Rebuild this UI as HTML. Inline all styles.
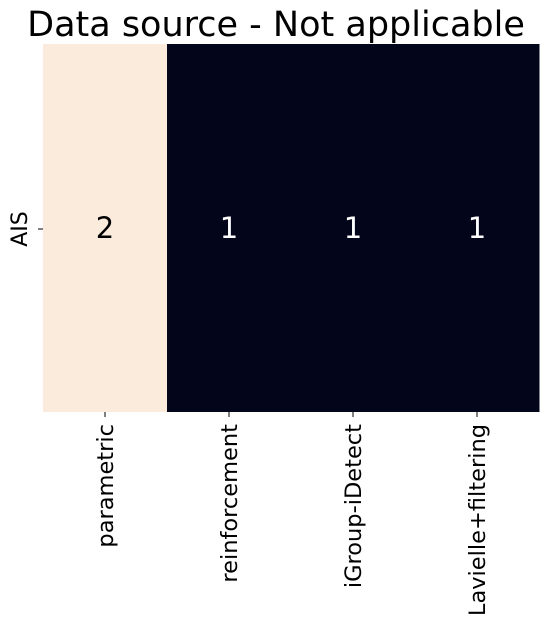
<!DOCTYPE html>
<html><head><meta charset="utf-8"><style>
body{margin:0;background:#fff;}
svg text{font-family:"DejaVu Sans","Liberation Sans",sans-serif;}
</style></head><body>
<svg id="chart" width="548" height="623" xmlns="http://www.w3.org/2000/svg">
<text x="276" y="36" font-size="35" text-anchor="middle" fill="#000">Data source - Not applicable</text>
<g id="cells"></g>
<g id="xlabels"></g>
<line x1="38" x2="43" y1="229" y2="229" stroke="#000" stroke-width="1"/>
<text transform="translate(27,229) rotate(-90)" font-size="22" text-anchor="middle" fill="#000">AIS</text>
</svg>
<script>
const categories=["parametric","reinforcement","iGroup-iDetect","Lavielle+filtering"];
const values=[2,1,1,1];
const x0=43,y0=44,w=496,h=368;
const cw=w/categories.length;
const vmin=Math.min(...values),vmax=Math.max(...values);
function color(v){const t=vmax===vmin?0:(v-vmin)/(vmax-vmin);
 const a=[3,5,26],b=[250,235,221];
 return `rgb(${a.map((c,i)=>Math.round(c+(b[i]-c)*t)).join(",")})`;}
const ns="http://www.w3.org/2000/svg";
const cells=document.getElementById("cells"),xl=document.getElementById("xlabels");
categories.forEach((c,i)=>{
 const r=document.createElementNS(ns,"rect");
 r.setAttribute("x",x0+i*cw);r.setAttribute("y",y0);r.setAttribute("width",cw+0.5);r.setAttribute("height",h);
 r.setAttribute("fill",color(values[i]));
 
 
 cells.appendChild(r);
 const t=document.createElementNS(ns,"text");
 t.setAttribute("x",x0+(i+0.5)*cw);t.setAttribute("y",y0+h/2+10);
 t.setAttribute("font-size","29");t.setAttribute("text-anchor","middle");
 t.setAttribute("fill",values[i]>(vmin+vmax)/2?"#000":"#fff");
 t.textContent=values[i];
 
 
 cells.appendChild(t);
 const cx=x0+(i+0.5)*cw;
 const tk=document.createElementNS(ns,"line");
 tk.setAttribute("x1",cx);tk.setAttribute("x2",cx);tk.setAttribute("y1",412);tk.setAttribute("y2",417);
 tk.setAttribute("stroke","#000");
 
 
 xl.appendChild(tk);
 const l=document.createElementNS(ns,"text");
 l.setAttribute("transform",`translate(${cx+8},424) rotate(-90)`);
 l.setAttribute("font-size","22.5");l.setAttribute("text-anchor","end");l.setAttribute("fill","#000");
 l.textContent=c;
 
 
 xl.appendChild(l);
});
</script>
</body></html>
